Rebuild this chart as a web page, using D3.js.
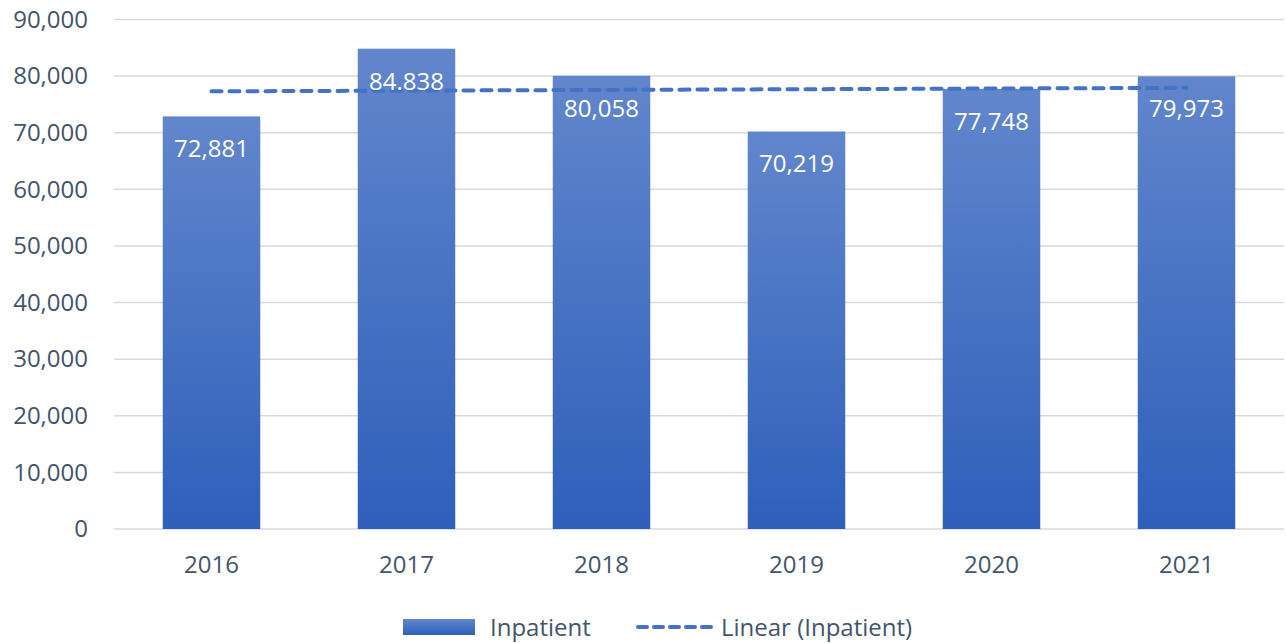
<!DOCTYPE html>
<html><head><meta charset="utf-8">
<script src="https://cdn.jsdelivr.net/npm/d3@7"></script>
<style>body{margin:0;background:#fff}svg{display:block}text{font-family:"Open Sans",sans-serif}</style>
</head><body><svg id="c" width="1286" height="643"></svg>
<script>
const categories = ["2016","2017","2018","2019","2020","2021"];
const inpatient = [72881, 84838, 80058, 70219, 77748, 79973];
const valueLabels = ["72,881","84.838","80,058","70,219","77,748","79,973"];
const yTicks = [0,10000,20000,30000,40000,50000,60000,70000,80000,90000];
const legendLabels = ["Inpatient","Linear (Inpatient)"];

const svg = d3.select("#c");
const W = 1286, H = 643;
const m = {left:114, right:2};
const x = d3.scaleBand().domain(categories).range([m.left, W - m.right]).paddingInner(0.5).paddingOuter(0.25);
const y = d3.scaleLinear().domain([0, 90000]).range([529, 19.5]);
const textCol = "#44546a";
const fs = 24;

const defs = svg.append("defs");
const grad = defs.append("linearGradient").attr("id","bg").attr("x1",0).attr("y1",0).attr("x2",0).attr("y2",1);
grad.append("stop").attr("offset","0%").attr("stop-color","#6186cc");
grad.append("stop").attr("offset","100%").attr("stop-color","#2e5fba");

// gridlines
svg.append("g").selectAll("line").data(yTicks).join("line")
  .attr("x1", m.left).attr("x2", W - m.right)
  .attr("y1", d => y(d)).attr("y2", d => y(d))
  .attr("stroke", "#d9d9d9").attr("stroke-width", 1.5);

// y axis labels
const yAxis = d3.axisLeft(y).tickValues(yTicks).tickFormat(d3.format(",")).tickSize(0).tickPadding(26);
const ga = svg.append("g").attr("transform", `translate(${m.left},0)`).call(yAxis);
ga.select(".domain").remove();
ga.selectAll("text").attr("font-size", fs).attr("fill", textCol).attr("font-family","Open Sans, sans-serif");

// bars
svg.append("g").selectAll("rect").data(categories).join("rect")
  .attr("x", d => x(d)).attr("width", x.bandwidth())
  .attr("y", (d,i) => y(inpatient[i])).attr("height", (d,i) => y(0) - y(inpatient[i]))
  .attr("fill", "url(#bg)");

// x axis labels
const xAxis = d3.axisBottom(x).tickSize(0).tickPadding(27);
const gx = svg.append("g").attr("transform", `translate(0,${y(0)})`).call(xAxis);
gx.select(".domain").remove();
gx.selectAll("text").attr("font-size", fs).attr("fill", textCol).attr("font-family","Open Sans, sans-serif");

// linear trendline (least squares fit of the series)
const n = inpatient.length;
const xs = d3.range(n);
const mx = d3.mean(xs), my = d3.mean(inpatient);
const slope = d3.sum(xs, i => (i - mx) * (inpatient[i] - my)) / d3.sum(xs, i => (i - mx) ** 2);
const icpt = my - slope * mx;
const trend = categories.map((c, i) => [x(c) + x.bandwidth()/2, y(icpt + slope * i)]);
svg.append("path").attr("d", d3.line()(trend))
  .attr("fill","none").attr("stroke","#4472c4").attr("stroke-width",4)
  .attr("stroke-dasharray","10,8").attr("stroke-linecap","round");

// data labels
svg.append("g").selectAll("text").data(categories).join("text")
  .attr("x", d => x(d) + x.bandwidth()/2)
  .attr("y", (d,i) => y(inpatient[i]) + 41)
  .attr("text-anchor","middle").attr("fill","#fff").attr("font-size",fs)
  .text((d,i) => valueLabels[i]);

// legend
const lgG = svg.append("g");
lgG.append("rect").attr("x",403).attr("y",619).attr("width",72).attr("height",16).attr("fill","url(#bg)");
lgG.append("text").attr("x",490).attr("y",636).attr("font-size",fs).attr("fill",textCol).text(legendLabels[0]);
lgG.append("line").attr("x1",638).attr("x2",712).attr("y1",627).attr("y2",627)
  .attr("stroke","#4472c4").attr("stroke-width",4).attr("stroke-dasharray","9,7").attr("stroke-linecap","round");
lgG.append("text").attr("x",721).attr("y",636).attr("font-size",fs).attr("fill",textCol).text(legendLabels[1]);
</script></body></html>
